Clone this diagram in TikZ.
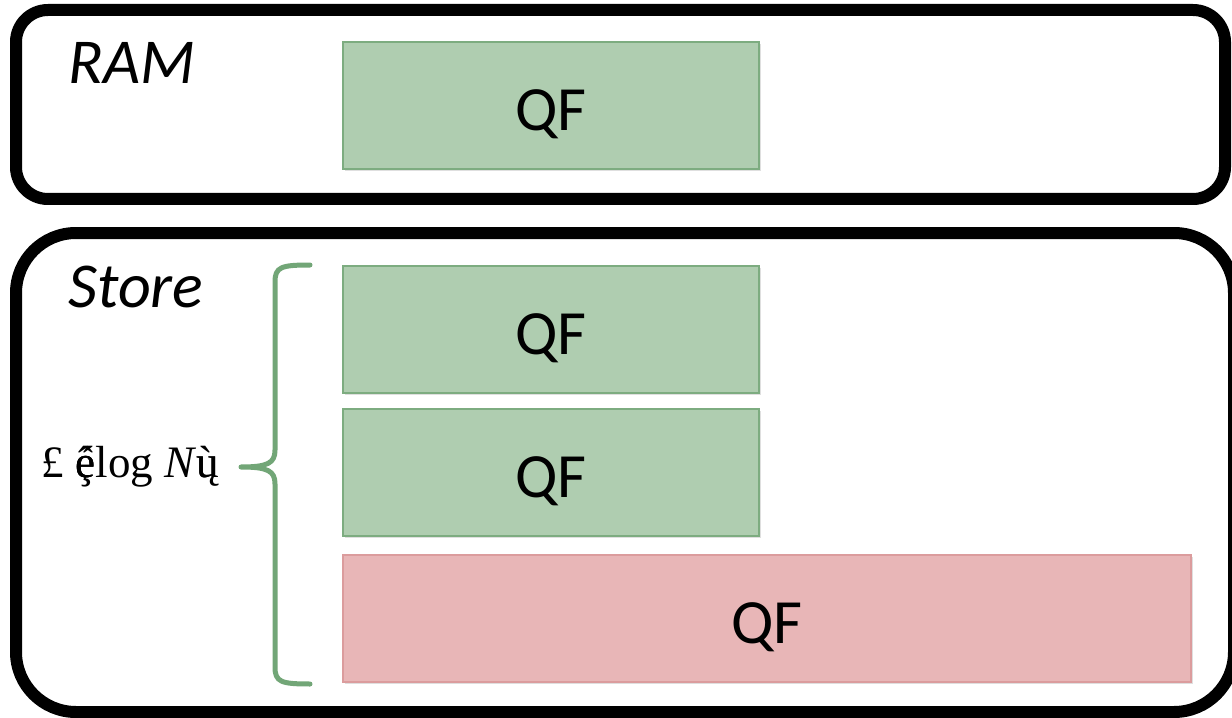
\documentclass[tikz,border=0pt]{standalone}
\usepackage{fontspec}
\setmainfont{Carlito}
\newfontfamily\labelserif{Liberation Serif}
\usetikzlibrary{shadows}
\definecolor{qfgreen}{HTML}{AFCDB0}
\definecolor{qfgreenedge}{HTML}{7DAC80}
\definecolor{qfred}{HTML}{E8B6B7}
\definecolor{qfrededge}{HTML}{DB9C9D}
\definecolor{bracegreen}{HTML}{72A677}
\tikzset{
  frame/.style={draw=black, line width=12bp, fill=white,
    drop shadow={opacity=0.35, shadow xshift=2bp, shadow yshift=-3bp}},
  qfbox/.style={draw=qfgreenedge, line width=1.5bp, fill=qfgreen, inner sep=0pt,
    font=\fontsize{63bp}{66bp}\selectfont, text height=50bp, text depth=0bp,
    drop shadow={opacity=0.25, shadow xshift=2bp, shadow yshift=-2bp}},
  qfboxred/.style={qfbox, draw=qfrededge, fill=qfred},
  tierlabel/.style={font=\fontsize{64bp}{68bp}\selectfont\itshape, inner sep=0pt},
  bracepath/.style={draw=bracegreen, line width=5bp, line cap=round, line join=round},
}
\begin{document}
\begin{tikzpicture}[x=1bp, y=-1bp]
  \useasboundingbox (0,0) rectangle (1232,718);
  \fill[white] (0,0) rectangle (1232,718);

  % memory tiers
  \draw[frame, rounded corners=32bp] (16,10) rectangle (1225,199);
  \coordinate (ramframe) at (620,105);
  \draw[frame, rounded corners=60bp] (16,233) rectangle (1234,712);
  \coordinate (storeframe) at (620,472);

  \node[tierlabel] (ram) at (132,63) {RAM};
  \node[tierlabel] (store) at (136,287) {Store};

  % filters
  \node[qfbox, minimum width=416bp, minimum height=127bp] (qf0) at (551,105.5) {QF};
  \node[qfbox, minimum width=416bp, minimum height=127bp] (qf1) at (551,329.5) {QF};
  \node[qfbox, minimum width=416bp, minimum height=127bp] (qf2) at (551,472.5) {QF};
  \node[qfboxred, minimum width=848bp, minimum height=127bp] (qf3) at (767,618.5) {QF};

  % brace over the stored filters
  \coordinate (bracetop) at (310,265);
  \coordinate (bracetip) at (241,467);
  \coordinate (bracebot) at (310,684);
  \draw[bracepath] (bracetop) .. controls (281,265) and (275,267) .. (275,282)
    -- (275,450) .. controls (275,463) and (268,467) .. (bracetip)
    .. controls (268,467) and (275,471) .. (275,484)
    -- (275,667) .. controls (275,682) and (281,684) .. (bracebot);

  \node[font=\labelserif\fontsize{45bp}{50bp}\selectfont, inner sep=0pt, anchor=east]
    (count) at (219,467) {£ \rlap{é}\rlap{ê}ȩlog \textit{N}\rlap{ù}ų};
\end{tikzpicture}
\end{document}
